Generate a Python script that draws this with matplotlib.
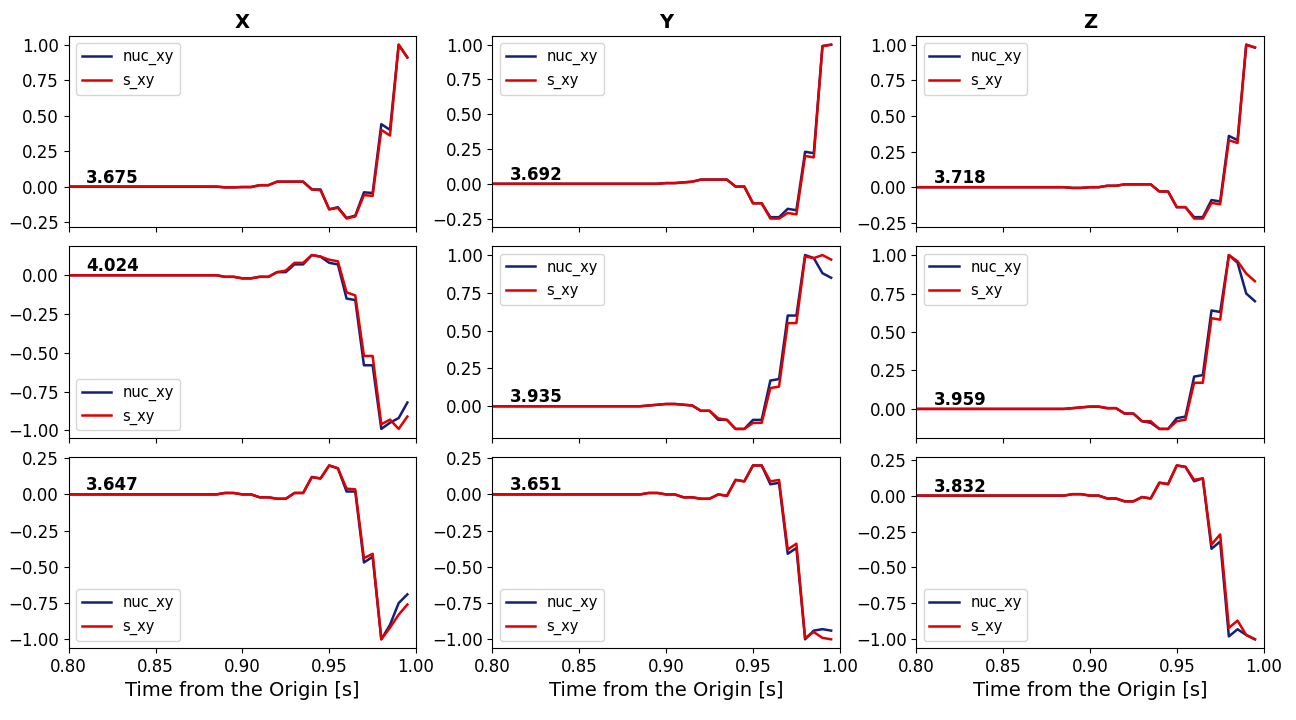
import matplotlib
matplotlib.use('Agg')
import matplotlib.pyplot as plt
from matplotlib.ticker import MultipleLocator
import numpy as np

t = np.round(np.arange(0.8, 0.9999, 0.005), 3)
lead = [0.0] * 18  # 0.800 .. 0.885 are flat

nuc = {
    (0, 0): lead + [-0.005, -0.005, -0.003, -0.003, 0.01, 0.01, 0.035, 0.035, 0.035, 0.035, -0.02, -0.02, -0.16, -0.145, -0.22, -0.205, -0.04, -0.045, 0.44, 0.40, 1.0, 0.91],
    (0, 1): lead + [0.0, 0.0, 0.005, 0.005, 0.01, 0.015, 0.03, 0.03, 0.03, 0.03, -0.02, -0.02, -0.14, -0.14, -0.24, -0.24, -0.18, -0.19, 0.23, 0.22, 0.99, 1.0],
    (0, 2): lead + [-0.005, -0.005, 0.0, 0.0, 0.01, 0.01, 0.02, 0.02, 0.02, 0.02, -0.03, -0.03, -0.14, -0.14, -0.21, -0.21, -0.09, -0.10, 0.36, 0.33, 1.0, 0.98],
    (1, 0): lead + [-0.01, -0.01, -0.02, -0.02, -0.01, -0.01, 0.02, 0.02, 0.07, 0.07, 0.13, 0.12, 0.08, 0.07, -0.15, -0.16, -0.58, -0.58, -0.99, -0.95, -0.92, -0.82],
    (1, 1): lead + [0.005, 0.01, 0.015, 0.015, 0.01, 0.005, -0.03, -0.03, -0.09, -0.09, -0.15, -0.15, -0.09, -0.09, 0.17, 0.18, 0.6, 0.6, 1.0, 0.98, 0.88, 0.85],
    (1, 2): lead + [0.005, 0.01, 0.015, 0.015, 0.005, 0.005, -0.03, -0.03, -0.08, -0.09, -0.13, -0.13, -0.06, -0.05, 0.21, 0.22, 0.64, 0.63, 1.0, 0.95, 0.75, 0.70],
    (2, 0): lead + [0.01, 0.01, 0.0, 0.0, -0.02, -0.02, -0.03, -0.03, 0.01, 0.01, 0.12, 0.11, 0.2, 0.18, 0.02, 0.02, -0.47, -0.43, -1.0, -0.9, -0.75, -0.69],
    (2, 1): lead + [0.01, 0.01, 0.0, 0.0, -0.02, -0.02, -0.03, -0.03, 0.0, -0.01, 0.1, 0.09, 0.2, 0.2, 0.07, 0.08, -0.41, -0.37, -1.0, -0.94, -0.93, -0.94],
    (2, 2): lead + [0.01, 0.01, 0.0, 0.0, -0.02, -0.02, -0.04, -0.04, -0.01, -0.02, 0.09, 0.08, 0.21, 0.2, 0.1, 0.12, -0.37, -0.32, -0.98, -0.93, -0.97, -1.0],
}
s = {
    (0, 0): lead + [-0.005, -0.005, -0.003, -0.003, 0.01, 0.01, 0.035, 0.035, 0.035, 0.035, -0.02, -0.025, -0.16, -0.15, -0.225, -0.21, -0.06, -0.065, 0.40, 0.36, 1.0, 0.91],
    (0, 1): lead + [0.0, 0.0, 0.005, 0.005, 0.01, 0.015, 0.03, 0.03, 0.03, 0.03, -0.02, -0.02, -0.14, -0.14, -0.25, -0.25, -0.21, -0.22, 0.20, 0.19, 0.99, 1.0],
    (0, 2): lead + [-0.005, -0.005, 0.0, 0.0, 0.01, 0.01, 0.02, 0.02, 0.02, 0.02, -0.03, -0.03, -0.14, -0.14, -0.22, -0.22, -0.11, -0.12, 0.33, 0.31, 1.0, 0.98],
    (1, 0): lead + [-0.01, -0.01, -0.02, -0.02, -0.01, -0.01, 0.02, 0.03, 0.08, 0.08, 0.13, 0.12, 0.10, 0.09, -0.11, -0.13, -0.52, -0.52, -0.96, -0.93, -0.99, -0.91],
    (1, 1): lead + [0.005, 0.01, 0.015, 0.015, 0.01, 0.005, -0.03, -0.03, -0.08, -0.09, -0.15, -0.15, -0.11, -0.11, 0.12, 0.13, 0.55, 0.55, 0.99, 0.98, 1.0, 0.97],
    (1, 2): lead + [0.005, 0.01, 0.015, 0.015, 0.005, 0.005, -0.03, -0.03, -0.08, -0.08, -0.13, -0.13, -0.08, -0.07, 0.17, 0.17, 0.59, 0.58, 1.0, 0.96, 0.88, 0.83],
    (2, 0): lead + [0.01, 0.01, 0.0, 0.0, -0.02, -0.02, -0.03, -0.03, 0.01, 0.01, 0.12, 0.11, 0.2, 0.18, 0.04, 0.035, -0.44, -0.41, -1.0, -0.92, -0.83, -0.76],
    (2, 1): lead + [0.01, 0.01, 0.0, 0.0, -0.02, -0.02, -0.03, -0.03, 0.0, -0.01, 0.1, 0.09, 0.2, 0.2, 0.09, 0.1, -0.38, -0.34, -0.99, -0.95, -0.99, -1.0],
    (2, 2): lead + [0.01, 0.01, 0.0, 0.0, -0.02, -0.02, -0.04, -0.04, -0.01, -0.02, 0.09, 0.08, 0.21, 0.2, 0.11, 0.12, -0.34, -0.27, -0.92, -0.87, -0.97, -1.0],
}
labels = [['3.675', '3.692', '3.718'],
          ['4.024', '3.935', '3.959'],
          ['3.647', '3.651', '3.832']]
titles = ['X', 'Y', 'Z']
legend_loc = [['upper left'] * 3,
              ['lower left', 'upper left', 'upper left'],
              ['lower left'] * 3]

fig, axes = plt.subplots(3, 3, figsize=(12.96, 7.2), dpi=100, sharex=True)
fig.subplots_adjust(left=0.053, right=0.975, top=0.95, bottom=0.1, hspace=0.1, wspace=0.22)

for i in range(3):
    for j in range(3):
        ax = axes[i, j]
        ax.plot(t, nuc[(i, j)], color='#12207a', lw=1.8, label='nuc_xy')
        ax.plot(t, s[(i, j)], color='#e00000', lw=1.8, label='s_xy')
        ax.text(0.81, 0.0, labels[i][j], fontsize=12, fontweight='bold', va='bottom')
        ax.legend(loc=legend_loc[i][j], fontsize=10.5)
        ax.set_xlim(0.8, 1.0)
        ax.yaxis.set_major_locator(MultipleLocator(0.25))
        ax.tick_params(labelsize=12)
        if i == 0:
            ax.set_title(titles[j], fontsize=14, fontweight='bold')
        if i == 2:
            ax.set_xlabel('Time from the Origin [s]', fontsize=14)
            ax.set_xticks([0.8, 0.85, 0.9, 0.95, 1.0])

fig.savefig('out.png')
